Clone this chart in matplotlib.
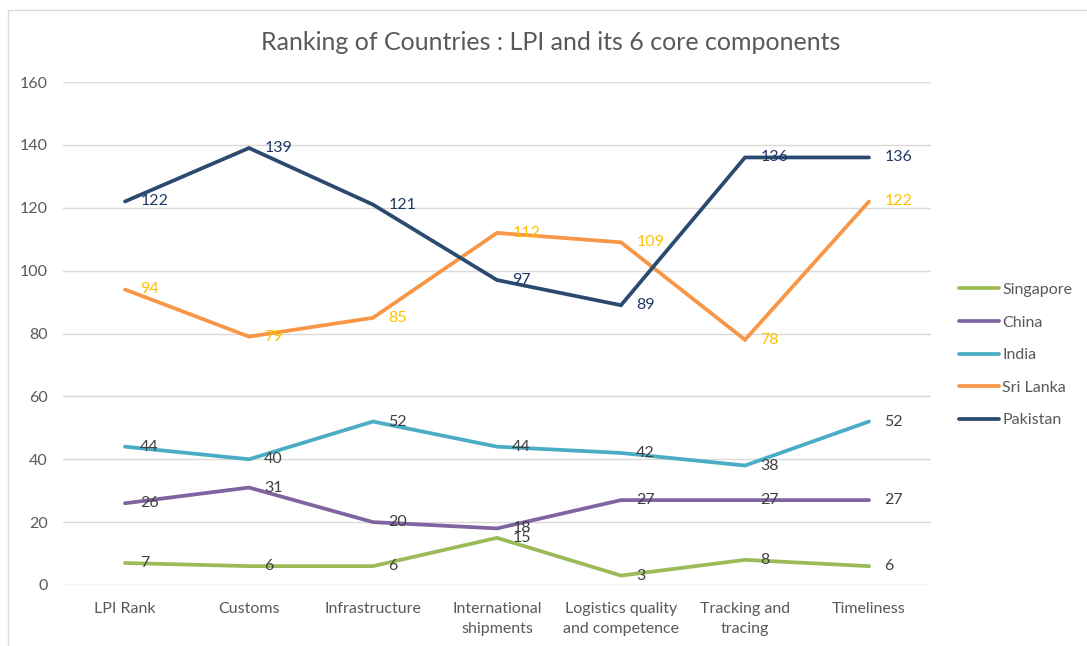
import matplotlib.pyplot as plt
from matplotlib.patches import Rectangle

categories = ["LPI Rank", "Customs", "Infrastructure", "International\nshipments",
              "Logistics quality\nand competence", "Tracking and\ntracing", "Timeliness"]

singapore = [7, 6, 6, 15, 3, 8, 6]
china = [26, 31, 20, 18, 27, 27, 27]
india = [44, 40, 52, 44, 42, 38, 52]
sri_lanka = [94, 79, 85, 112, 109, 78, 122]
pakistan = [122, 139, 121, 97, 89, 136, 136]

series = [
    ("Singapore", singapore, "#9BBB59", "#404040"),
    ("China", china, "#8064A2", "#404040"),
    ("India", india, "#4BACC6", "#404040"),
    ("Sri Lanka", sri_lanka, "#F79646", "#FFC000"),
    ("Pakistan", pakistan, "#2B4A70", "#1F3864"),
]

plt.rcParams['font.family'] = ['Lato', 'DejaVu Sans']

fig = plt.figure(figsize=(10.87, 6.46), dpi=100)
W, H = 1087, 646

# light frame round the chart area
fig.patches.append(Rectangle((8 / W, -0.1), 1.2, 1.1 - 10 / H, transform=fig.transFigure,
                             fill=False, edgecolor="#D9D9D9", linewidth=1.0))

ax = fig.add_axes([63 / W, 1 - 585 / H, (931 - 63) / W, (585 - 82) / H])

x = list(range(len(categories)))
for name, vals, color, lblcolor in series:
    ax.plot(x, vals, color=color, linewidth=2.7, label=name, solid_capstyle='round',
            solid_joinstyle='miter')
    for xi, v in zip(x, vals):
        ax.annotate(str(v), (xi, v), xytext=(11, 0), textcoords='offset points',
                    ha='left', va='center', fontsize=11.5, color=lblcolor)

ax.set_xlim(-0.5, len(categories) - 0.5)
ax.set_ylim(0, 160)
ax.set_yticks(range(0, 161, 20))
ax.set_xticks(x)
ax.set_xticklabels(categories, fontsize=11.5, color="#595959", linespacing=1.55)
ax.tick_params(axis='both', length=0, labelsize=11.5, labelcolor="#595959")
ax.tick_params(axis='y', pad=11)
ax.tick_params(axis='x', pad=12)
ax.grid(axis='y', color="#D9D9D9", linewidth=1.0)
ax.set_axisbelow(True)
for s in ax.spines.values():
    s.set_visible(False)

fig.text(551 / W, 1 - 42 / H, "Ranking of Countries : LPI and its 6 core components",
         ha='center', va='center', fontsize=18, color="#595959")

fig.legend(loc='center left', bbox_to_anchor=(959 / W, 1 - 355 / H), frameon=False,
           fontsize=11.5, handlelength=2.5, handletextpad=0.2, labelspacing=1.15,
           borderpad=0, borderaxespad=0, labelcolor="#595959")

fig.savefig("out.png", dpi=100)
